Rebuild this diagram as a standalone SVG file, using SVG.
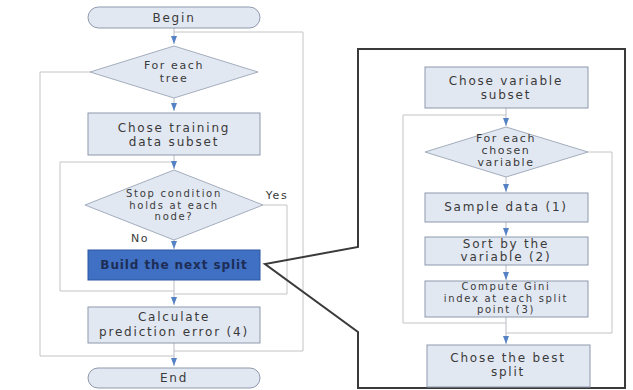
<svg xmlns="http://www.w3.org/2000/svg" width="633" height="390" viewBox="0 0 633 390">
<style>
.box{fill:#e2e8f2;stroke:#8e99ab;stroke-width:1}
.dia{fill:#e2e8f2;stroke:#a3adbd;stroke-width:1}
.dark{fill:#3f70c3;stroke:#2d56a0;stroke-width:1}
.ln{fill:none;stroke:#c4c4c4;stroke-width:1}
.ar{fill:none;stroke:#b8bcc4;stroke-width:1;marker-end:url(#ah)}
.call{fill:none;stroke:#3a3a3a;stroke-width:2}
text{font-family:"DejaVu Sans","Liberation Sans",sans-serif;font-size:12px;fill:#3a3a3a;text-anchor:middle;letter-spacing:1.8px}
.sm{font-size:11px;letter-spacing:1.6px}
.xs{font-size:10px;letter-spacing:1.7px}
.bt{fill:#1d2d55;font-weight:bold;letter-spacing:0.9px}
</style>
<defs>
<marker id="ah" viewBox="0 0 8 6" refX="8" refY="3" markerWidth="8" markerHeight="6" orient="auto" markerUnits="userSpaceOnUse">
<path d="M0,0 L8,3 L0,6 z" fill="#5582c4"/>
</marker>
</defs>
<rect width="633" height="390" fill="#ffffff"/>

<g id="connectors">
<polyline class="ln" points="90,72 40,72 40,356 174,356"/>
<polyline class="ln" points="174,351 303,351 303,32 174,32"/>
<polyline class="ln" points="174,291 60,291 60,162 174,162"/>
<polyline class="ln" points="263,205 287,205 287,294 174,294"/>
<line class="ar" x1="174" y1="28" x2="174" y2="44"/>
<line class="ar" x1="174" y1="98" x2="174" y2="111"/>
<line class="ar" x1="174" y1="155" x2="174" y2="169"/>
<line class="ar" x1="174" y1="240" x2="174" y2="249"/>
<line class="ar" x1="174" y1="280" x2="174" y2="305"/>
<line class="ar" x1="174" y1="343" x2="174" y2="366"/>
<polyline class="ln" points="506,115 403,115 403,323 506,323"/>
<polyline class="ln" points="588,152 612,152 612,333 506,333"/>
<line class="ar" x1="506" y1="108" x2="506" y2="126"/>
<line class="ar" x1="506" y1="177" x2="506" y2="192"/>
<line class="ar" x1="506" y1="222" x2="506" y2="236"/>
<line class="ar" x1="506" y1="265" x2="506" y2="280"/>
<line class="ar" x1="506" y1="317" x2="506" y2="344"/>
<path class="call" d="M358,247 L358,49 L625,49 L625,388 L358,388 L358,332 L265,264 Z"/>
<text x="277" y="199" class="sm">Yes</text>
<text x="140" y="242" class="sm">No</text>
</g>

<g id="begin"><rect class="box" x="88" y="7" width="172" height="21" rx="10.5"/><text x="174" y="22">Begin</text></g>
<g id="for-each-tree"><polygon class="dia" points="174,46 258,72 174,98 90,72"/><text x="174" y="69" class="sm">For each</text><text x="174" y="82" class="sm">tree</text></g>
<g id="chose-training"><rect class="box" x="88" y="113" width="172" height="42"/><text x="174" y="132">Chose training</text><text x="174" y="146">data subset</text></g>
<g id="stop-condition"><polygon class="dia" points="174,170 263,205 174,240 85,205"/><text x="174" y="197" class="xs">Stop condition</text><text x="174" y="208.5" class="xs">holds at each</text><text x="174" y="220" class="xs">node?</text></g>
<g id="build-split"><rect class="dark" x="88" y="250" width="172" height="30"/><text x="174" y="269" class="bt">Build the next split</text></g>
<g id="calculate"><rect class="box" x="88" y="307" width="172" height="36"/><text x="174" y="321">Calculate</text><text x="174" y="336">prediction error (4)</text></g>
<g id="end"><rect class="box" x="88" y="368" width="172" height="20" rx="10"/><text x="174" y="382">End</text></g>

<g id="chose-variable"><rect class="box" x="425" y="67" width="163" height="41"/><text x="506" y="85">Chose variable</text><text x="506" y="99">subset</text></g>
<g id="for-each-variable"><polygon class="dia" points="506,127 588,152 506,177 425,152"/><text x="506" y="142" class="sm">For each</text><text x="506" y="154" class="sm">chosen</text><text x="506" y="166" class="sm">variable</text></g>
<g id="sample-data"><rect class="box" x="425" y="193" width="163" height="29"/><text x="506" y="211">Sample data (1)</text></g>
<g id="sort-variable"><rect class="box" x="425" y="237" width="163" height="28"/><text x="506" y="248">Sort by the</text><text x="506" y="261">variable (2)</text></g>
<g id="compute-gini"><rect class="box" x="425" y="281" width="163" height="36"/><text x="506" y="290" class="xs">Compute Gini</text><text x="506" y="301.5" class="xs">index at each split</text><text x="506" y="313" class="xs">point (3)</text></g>
<g id="chose-best"><rect class="box" x="427" y="345" width="163" height="42"/><text x="508" y="362">Chose the best</text><text x="508" y="376">split</text></g>
</svg>
